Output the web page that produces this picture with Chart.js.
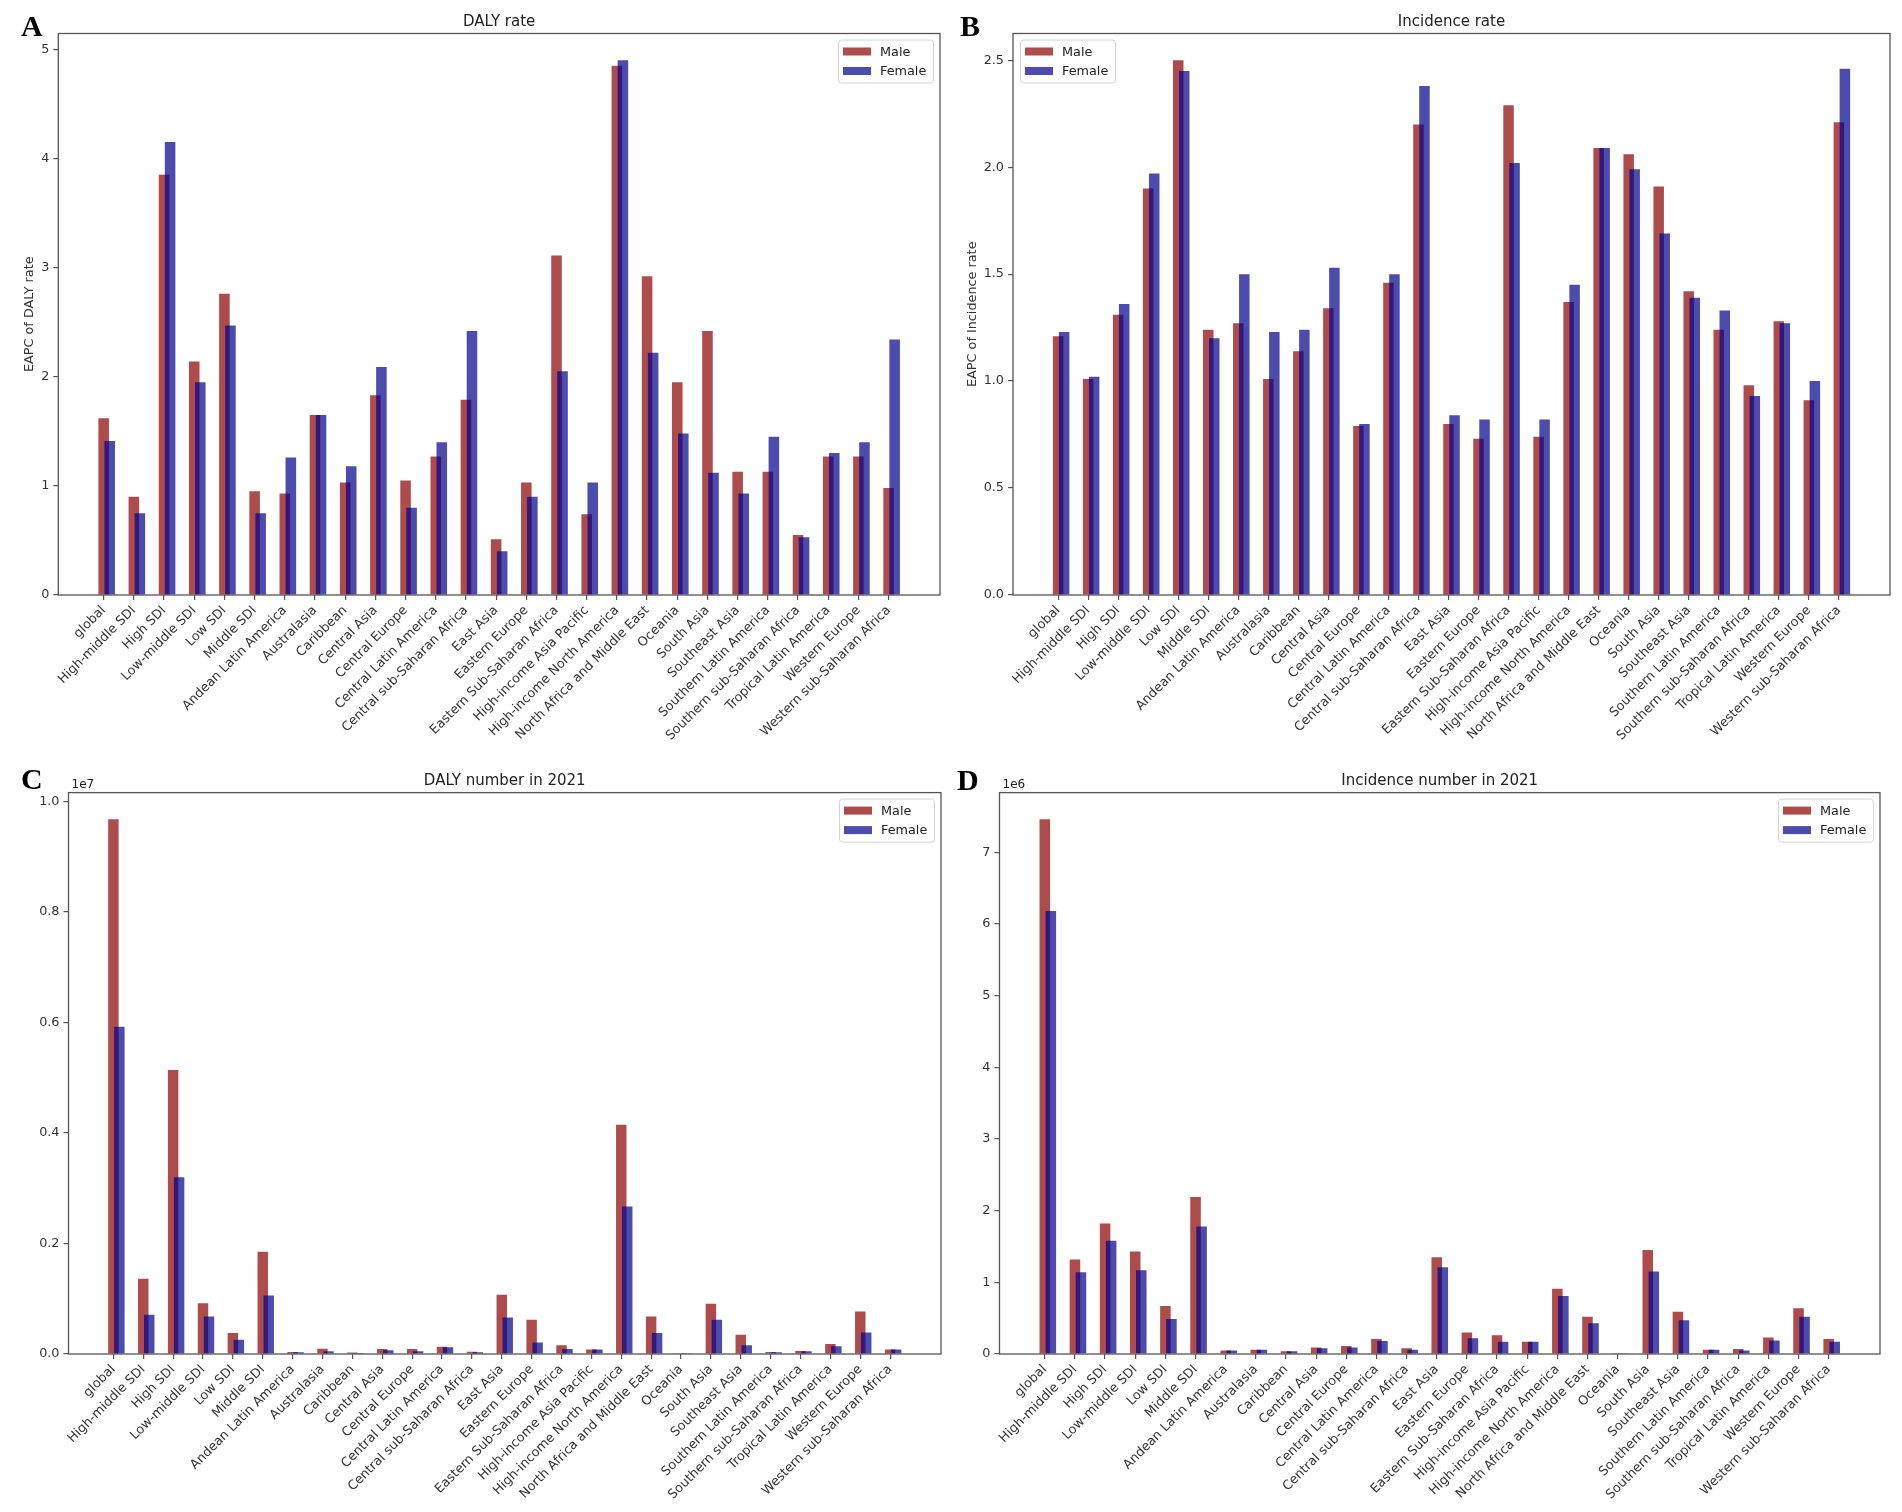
<!DOCTYPE html>
<html>
<head>
<meta charset="utf-8">
<script src="https://cdn.jsdelivr.net/npm/chart.js@4.4.1/dist/chart.umd.min.js"></script>
<style>
html,body{margin:0;padding:0;background:#fff;}
body{width:1902px;height:1512px;position:relative;overflow:hidden;}
.panel{position:absolute;width:951px;height:756px;}
</style>
</head>
<body>
<div class="panel" style="left:0;top:0"><canvas id="cA"></canvas></div>
<div class="panel" style="left:951px;top:0"><canvas id="cB"></canvas></div>
<div class="panel" style="left:0;top:756px"><canvas id="cC"></canvas></div>
<div class="panel" style="left:951px;top:756px"><canvas id="cD"></canvas></div>
<script>
// ---------------- data ----------------
const regions = ["global","High-middle SDI","High SDI","Low-middle SDI","Low SDI","Middle SDI",
  "Andean Latin America","Australasia","Caribbean","Central Asia","Central Europe",
  "Central Latin America","Central sub-Saharan Africa","East Asia","Eastern Europe",
  "Eastern Sub-Saharan Africa","High-income Asia Pacific","High-income North America",
  "North Africa and Middle East","Oceania","South Asia","Southeast Asia",
  "Southern Latin America","Southern sub-Saharan Africa","Tropical Latin America",
  "Western Europe","Western sub-Saharan Africa"];

const dalyRateMale   = [1.62,0.90,3.85,2.14,2.76,0.95,0.93,1.65,1.03,1.83,1.05,1.27,1.79,0.51,1.03,3.11,0.74,4.85,2.92,1.95,2.42,1.13,1.13,0.55,1.27,1.27,0.98];
const dalyRateFemale = [1.41,0.75,4.15,1.95,2.47,0.75,1.26,1.65,1.18,2.09,0.80,1.40,2.42,0.40,0.90,2.05,1.03,4.90,2.22,1.48,1.12,0.93,1.45,0.53,1.30,1.40,2.34];

const incRateMale    = [1.21,1.01,1.31,1.90,2.50,1.24,1.27,1.01,1.14,1.34,0.79,1.46,2.20,0.80,0.73,2.29,0.74,1.37,2.09,2.06,1.91,1.42,1.24,0.98,1.28,0.91,2.21];
const incRateFemale  = [1.23,1.02,1.36,1.97,2.45,1.20,1.50,1.23,1.24,1.53,0.80,1.50,2.38,0.84,0.82,2.02,0.82,1.45,2.09,1.99,1.69,1.39,1.33,0.93,1.27,1.00,2.46];

const dalyNumMale    = [9675000,1360000,5140000,920000,380000,1850000,35000,95000,25000,90000,90000,130000,40000,1070000,620000,160000,80000,4150000,680000,5000,910000,350000,35000,55000,180000,770000,80000];
const dalyNumFemale  = [5920000,710000,3200000,680000,260000,1060000,30000,50000,20000,70000,50000,120000,30000,660000,210000,90000,80000,2670000,380000,4000,620000,160000,30000,50000,140000,390000,80000];

const incNumMale     = [7460000,1320000,1820000,1430000,670000,2190000,50000,60000,40000,90000,110000,210000,80000,1350000,300000,260000,170000,910000,520000,10000,1450000,590000,60000,70000,230000,640000,210000];
const incNumFemale   = [6180000,1140000,1580000,1170000,490000,1780000,50000,60000,40000,80000,90000,180000,60000,1210000,220000,170000,170000,810000,430000,10000,1150000,470000,60000,50000,190000,520000,170000];

const yTicksA = [0,1,2,3,4,5];
const yTicksB = [0,0.5,1.0,1.5,2.0,2.5];
const yTicksC = [0,2000000,4000000,6000000,8000000,10000000];
const yTicksD = [0,1000000,2000000,3000000,4000000,5000000,6000000,7000000];

const seriesLabels = ["Male","Female"];

// ---------------- style ----------------
const maleColor = 'rgba(139,0,0,0.7)';
const femaleColor = 'rgba(0,0,139,0.7)';
const barWidth = 0.35;
const femaleShift = 0.2;
const FONT = '"DejaVu Sans", sans-serif';
const AXIS_COLOR = '#555';

const deco = {
  id: 'deco',
  afterDatasetsDraw(chart, args, o) {
    const ctx = chart.ctx, a = chart.chartArea;
    ctx.save();
    ctx.strokeStyle = AXIS_COLOR; ctx.lineWidth = 1.3;
    ctx.strokeRect(a.left, a.top, a.right - a.left, a.bottom - a.top);
    ctx.fillStyle = '#222';
    ctx.font = '15px ' + FONT;
    ctx.textAlign = 'center'; ctx.textBaseline = 'alphabetic';
    ctx.fillText(o.title, (a.left + a.right) / 2, a.top - 8);
    if (o.offsetText) {
      ctx.font = '12px ' + FONT; ctx.textAlign = 'left';
      ctx.fillText(o.offsetText, a.left + 3, a.top - 5);
    }
    ctx.fillStyle = '#000';
    ctx.font = 'bold 30px "Liberation Serif", serif';
    ctx.textAlign = 'left';
    ctx.fillText(o.letter, o.letterX, o.letterY);
    const boxW = 95, boxH = 43;
    const bx = o.legendSide === 'left' ? a.left + 7 : a.right - 7 - boxW;
    const by = a.top + 6;
    ctx.fillStyle = 'rgba(255,255,255,0.85)';
    ctx.strokeStyle = '#d4d4d4'; ctx.lineWidth = 1;
    ctx.beginPath();
    ctx.roundRect(bx + 0.5, by + 0.5, boxW, boxH, 3);
    ctx.fill(); ctx.stroke();
    ctx.font = '12.8px ' + FONT; ctx.textBaseline = 'middle';
    chart.data.datasets.forEach((ds, i) => {
      const cy = by + 12 + i * 19.5;
      ctx.fillStyle = ds.backgroundColor;
      ctx.fillRect(bx + 5, cy - 4, 28, 8);
      ctx.fillStyle = '#222';
      ctx.fillText(ds.label, bx + 42, cy + 1);
    });
    ctx.restore();
  }
};

function makeChart(id, opt) {
  const lo = -barWidth / 2;
  const hi = regions.length - 1 + femaleShift + barWidth / 2;
  const margin = 0.05 * (hi - lo);
  const ymax = Math.max(...opt.male, ...opt.female) * 1.05;
  return new Chart(document.getElementById(id), {
    type: 'bar',
    data: {
      datasets: [
        { label: seriesLabels[0], data: regions.map((r, i) => ({ x: i, y: opt.male[i] })), backgroundColor: maleColor, order: 1 },
        { label: seriesLabels[1], data: regions.map((r, i) => ({ x: i + femaleShift, y: opt.female[i] })), backgroundColor: femaleColor, order: 0 }
      ]
    },
    options: {
      responsive: true, maintainAspectRatio: false, animation: false,
      devicePixelRatio: 1,
      layout: { padding: { top: opt.padTop, left: opt.padLeft, right: opt.padRight, bottom: 0 } },
      datasets: { bar: { grouped: false, categoryPercentage: 1, barPercentage: barWidth / femaleShift, borderWidth: 0 } },
      plugins: {
        legend: { display: false }, tooltip: { enabled: false },
        deco: opt.deco
      },
      scales: {
        x: {
          type: 'linear', offset: false, min: lo - margin, max: hi + margin,
          afterBuildTicks: s => { s.ticks = regions.map((r, i) => ({ value: i })); },
          afterFit: s => { s.height = opt.xHeight; },
          border: { display: false },
          grid: { display: true, drawOnChartArea: false, drawTicks: true, tickLength: 5, color: AXIS_COLOR, lineWidth: 1.2, offset: false },
          ticks: { autoSkip: false, maxRotation: 45, minRotation: 45, padding: 3, color: '#333',
                   font: { family: FONT, size: 12.8 }, callback: v => regions[v] }
        },
        y: {
          min: 0, max: ymax,
          afterBuildTicks: s => { s.ticks = opt.yTicks.map(v => ({ value: v })); },
          afterFit: s => { s.width = opt.yWidth; },
          border: { display: false },
          grid: { display: true, drawOnChartArea: false, drawTicks: true, tickLength: 5, color: AXIS_COLOR, lineWidth: 1.2 },
          ticks: { padding: 4, color: '#333', font: { family: FONT, size: 12.8 }, callback: opt.fmt },
          title: { display: !!opt.yTitle, text: opt.yTitle || '', color: '#333', font: { family: FONT, size: 12.8 }, padding: { top: 4, bottom: 4 } }
        }
      }
    },
    plugins: [deco]
  });
}

makeChart('cA', {
  male: dalyRateMale, female: dalyRateFemale, yTicks: yTicksA,
  fmt: v => String(v), yTitle: 'EAPC of DALY rate',
  padTop: 33.5, padLeft: 17.5, padRight: 11, yWidth: 40.8, xHeight: 161,
  deco: { title: 'DALY rate', letter: 'A', letterX: 21, letterY: 36, legendSide: 'right' }
});
makeChart('cB', {
  male: incRateMale, female: incRateFemale, yTicks: yTicksB,
  fmt: v => v.toFixed(1), yTitle: 'EAPC of Incidence rate',
  padTop: 33.5, padLeft: 9.5, padRight: 12, yWidth: 52.5, xHeight: 161,
  deco: { title: 'Incidence rate', letter: 'B', letterX: 9, letterY: 36, legendSide: 'left' }
});
makeChart('cC', {
  male: dalyNumMale, female: dalyNumFemale, yTicks: yTicksC,
  fmt: v => (v / 1e7).toFixed(1), yTitle: '',
  padTop: 36.6, padLeft: 0, padRight: 10, yWidth: 68.5, xHeight: 158,
  deco: { title: 'DALY number in 2021', letter: 'C', letterX: 21, letterY: 33, legendSide: 'right', offsetText: '1e7' }
});
makeChart('cD', {
  male: incNumMale, female: incNumFemale, yTicks: yTicksD,
  fmt: v => (v / 1e6).toFixed(0), yTitle: '',
  padTop: 36.6, padLeft: 0, padRight: 22, yWidth: 48.5, xHeight: 158,
  deco: { title: 'Incidence number in 2021', letter: 'D', letterX: 6, letterY: 34, legendSide: 'right', offsetText: '1e6' }
});
</script>
</body>
</html>
